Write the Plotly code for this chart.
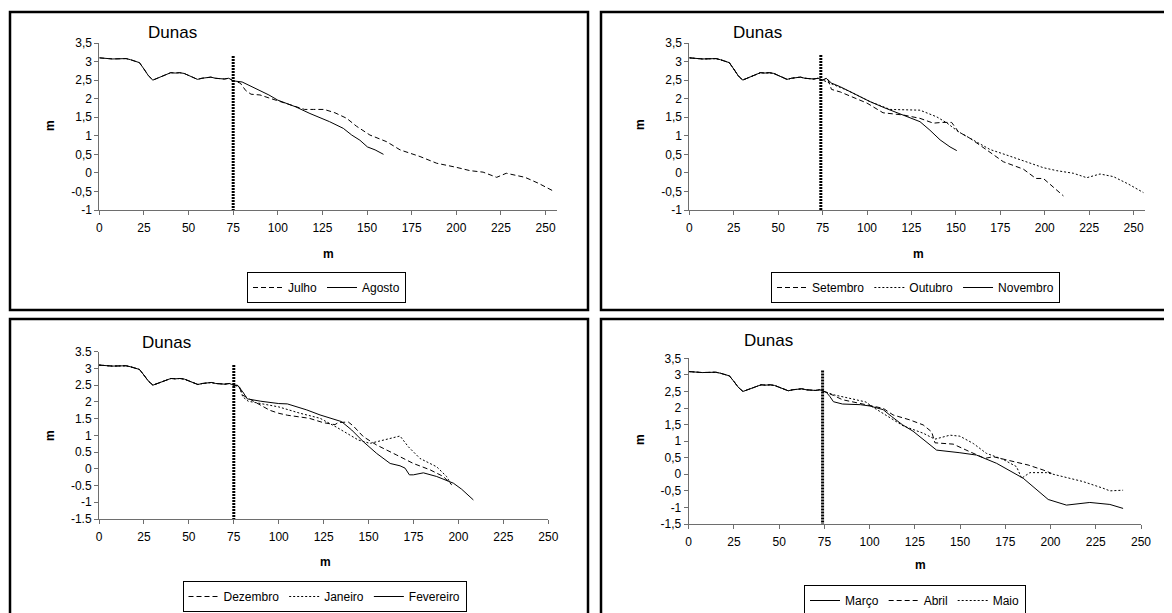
import plotly.graph_objects as go

# ---------------- data ----------------
# common dune profile 0-75 m
BASE_X = [0, 2.5, 5, 7.5, 10, 12.5, 15, 17.5, 20, 22.5, 25, 27.5, 30, 32.5, 35, 37.5,
          40, 42.5, 45, 47.5, 50, 52.5, 55, 57.5, 60, 62.5, 65, 67.5, 70, 72.5]
BASE_Y = [3.10, 3.10, 3.08, 3.07, 3.08, 3.09, 3.08, 3.05, 3.02, 2.97, 2.80, 2.62, 2.50, 2.55,
          2.62, 2.66, 2.70, 2.69, 2.70, 2.68, 2.62, 2.57, 2.52, 2.55, 2.56, 2.58, 2.55, 2.54,
          2.53, 2.55]

# panel 1
JULHO_X = [75, 79, 82, 85, 90, 95, 100, 105, 115, 120, 126, 132, 138.6, 144, 151.6, 161,
           168.5, 179.7, 189, 200, 207.7, 215, 222.6, 228, 238.5, 246, 254.4]
JULHO_Y = [2.48, 2.42, 2.22, 2.12, 2.10, 2.02, 1.94, 1.85, 1.71, 1.71, 1.71, 1.62, 1.47, 1.26,
           1.02, 0.84, 0.62, 0.44, 0.26, 0.15, 0.06, 0.02, -0.12, -0.01, -0.12, -0.28, -0.49]
AGOSTO_X = [75, 80, 85, 90, 95, 100, 105, 110, 118, 124, 129, 136.7, 141.4, 146, 150.2, 154.5, 159.2]
AGOSTO_Y = [2.48, 2.45, 2.33, 2.23, 2.10, 1.96, 1.88, 1.78, 1.60, 1.48, 1.38, 1.20, 1.02, 0.88,
            0.70, 0.62, 0.50]

# panel 2
SETEMBRO_X = [75, 78, 80, 85, 91.7, 100, 109, 115, 120.4, 129.8, 137.3, 142, 147.6, 151.4, 158,
              167.3, 176.7, 188, 195, 199.2, 210.5]
SETEMBRO_Y = [2.50, 2.52, 2.25, 2.18, 2.05, 1.88, 1.62, 1.58, 1.56, 1.47, 1.34, 1.36, 1.36, 1.11,
              0.93, 0.62, 0.30, 0.10, -0.15, -0.15, -0.62]
OUTUBRO_X = [75, 80, 85, 90, 95, 101.7, 113, 120, 129.8, 139.2, 144.8, 151.4, 158, 169.2, 178.6,
             189.9, 199.2, 206.7, 216.1, 223.6, 231.1, 238.6, 247, 255.5]
OUTUBRO_Y = [2.50, 2.42, 2.30, 2.20, 2.08, 1.92, 1.71, 1.70, 1.69, 1.51, 1.35, 1.11, 0.93, 0.63,
             0.48, 0.30, 0.14, 0.06, -0.01, -0.13, -0.03, -0.10, -0.30, -0.53]
NOVEMBRO_X = [75, 77, 80, 85, 90, 95, 101.7, 110, 120.4, 129.8, 135.4, 141.1, 146.7, 150.5]
NOVEMBRO_Y = [2.50, 2.55, 2.42, 2.32, 2.20, 2.08, 1.92, 1.75, 1.56, 1.38, 1.15, 0.89, 0.70, 0.60]

# panel 3
DEZEMBRO_X = [75, 78, 80, 85, 90, 95, 100, 105, 117, 124.8, 131.3, 133, 138.7, 141.5, 147.1,
              154.5, 165.7, 174.9, 184.2, 191.6, 196.3]
DEZEMBRO_Y = [2.50, 2.45, 2.20, 2.05, 1.90, 1.75, 1.66, 1.60, 1.51, 1.38, 1.32, 1.38, 1.40, 1.28,
              0.96, 0.71, 0.41, 0.16, -0.03, -0.23, -0.48]
JANEIRO_X = [75, 78, 80, 83, 90, 100, 111.9, 123, 132.3, 144.3, 150.8, 158.2, 167.5, 172.1,
             178.6, 187.9, 193.4, 196.3]
JANEIRO_Y = [2.50, 2.48, 2.15, 2.02, 1.95, 1.85, 1.66, 1.51, 1.24, 0.86, 0.76, 0.86, 0.98, 0.66,
             0.31, 0.06, -0.23, -0.50]
FEVEREIRO_X = [75, 77, 80, 82.5, 90, 100, 104.8, 115.6, 123, 135, 140.6, 147.1, 154.5, 162,
               167.5, 170.3, 172.7, 174.9, 180.5, 187.9, 197.2, 201.8, 208.3]
FEVEREIRO_Y = [2.50, 2.50, 2.30, 2.09, 2.02, 1.95, 1.94, 1.76, 1.61, 1.41, 1.16, 0.81, 0.46,
               0.16, 0.09, 0.02, -0.18, -0.18, -0.12, -0.23, -0.43, -0.61, -0.93]

# panel 4
MARCO_X = [75, 76, 78, 80, 85, 95, 100.2, 107.5, 112, 118, 124, 137, 149.9, 159.1, 170.2,
           184.9, 198.7, 208.8, 221.7, 232.8, 240.1]
MARCO_Y = [2.50, 2.48, 2.35, 2.19, 2.12, 2.10, 2.06, 1.95, 1.75, 1.50, 1.30, 0.73, 0.65, 0.58,
           0.33, -0.12, -0.76, -0.93, -0.85, -0.91, -1.03]
ABRIL_X = [75, 80, 85, 95, 100.2, 107.5, 113, 122.3, 129.6, 134.3, 136.1, 146.2, 155.4, 163.7,
           168.3, 179.3, 187.6, 195.9, 200.5]
ABRIL_Y = [2.50, 2.38, 2.25, 2.14, 2.09, 1.99, 1.79, 1.64, 1.49, 1.28, 0.95, 0.91, 0.68, 0.48,
           0.53, 0.38, 0.28, 0.13, 0.03]
MAIO_X = [75, 80, 90, 98, 102, 107.5, 118.6, 129.6, 136.1, 144.4, 149.9, 157.3, 164.6, 173.8,
          181.2, 184, 188.6, 197.8, 207, 218, 229, 232.8, 240.1]
MAIO_Y = [2.50, 2.40, 2.28, 2.18, 2.02, 1.84, 1.46, 1.24, 1.06, 1.18, 1.15, 0.93, 0.63, 0.45,
          0.23, -0.12, 0.05, 0.05, -0.07, -0.22, -0.42, -0.50, -0.48]

# reference (dotted) vertical line per panel
CUT_X = [75, 74, 75, 74]
CUT_TOP = [3.15, 3.18, 3.1, 3.13]

TITLE = "Dunas"
AXIS_LABEL = "m"
X_TICKS = [0, 25, 50, 75, 100, 125, 150, 175, 200, 225, 250]
Y_TICKS_TOP = [-1, -0.5, 0, 0.5, 1, 1.5, 2, 2.5, 3, 3.5]
Y_TICKS_BOT = [-1.5, -1, -0.5, 0, 0.5, 1, 1.5, 2, 2.5, 3, 3.5]

PANELS = [
    dict(series=[("Julho", JULHO_X, JULHO_Y, "5px,3px"),
                 ("Agosto", AGOSTO_X, AGOSTO_Y, "solid")],
         yticks=Y_TICKS_TOP, dec=","),
    dict(series=[("Setembro", SETEMBRO_X, SETEMBRO_Y, "5px,3px"),
                 ("Outubro", OUTUBRO_X, OUTUBRO_Y, "2px,2px"),
                 ("Novembro", NOVEMBRO_X, NOVEMBRO_Y, "solid")],
         yticks=Y_TICKS_TOP, dec=","),
    dict(series=[("Dezembro", DEZEMBRO_X, DEZEMBRO_Y, "5px,3px"),
                 ("Janeiro", JANEIRO_X, JANEIRO_Y, "2px,2px"),
                 ("Fevereiro", FEVEREIRO_X, FEVEREIRO_Y, "solid")],
         yticks=Y_TICKS_BOT, dec="."),
    dict(series=[("Março", MARCO_X, MARCO_Y, "solid"),
                 ("Abril", ABRIL_X, ABRIL_Y, "5px,3px"),
                 ("Maio", MAIO_X, MAIO_Y, "2px,2px")],
         yticks=Y_TICKS_BOT, dec=","),
]

# ---------------- layout geometry (pixels in the 1172x613 window) ----------------
OFF = 8                       # page body margin offsets the figure
W, H = 1172 - OFF, 613 - OFF
FONT = "Arial, Liberation Sans, sans-serif"

def fx(p):
    return (p - OFF) / W

def fy(p):
    return 1 - (p - OFF) / H

# plot areas: (x0, x1, ytop, ybottom, xmax)
AREAS = [
    (99.3, 557.0, 43.0, 210.0, 256.4),
    (689.3, 1145.0, 43.0, 210.0, 256.4),
    (99.0, 548.3, 351.7, 519.0, 250.0),
    (688.7, 1141.0, 358.3, 524.0, 250.0),
]
TITLE_POS = [(172, 33), (757, 33), (167, 342), (768, 340)]
YLAB_POS = [(50, 125), (640, 125), (50, 435), (640, 440)]
XLAB_POS = [(328, 254), (918, 254), (325, 562), (920, 565)]
LEG_POS = [(326.5, 272), (915.5, 272), (324.5, 581), (915, 585)]
BOXES = [(10, 588, 12, 310), (601, 1190, 12, 310), (10, 588, 319, 630), (601, 1190, 319, 630)]

fig = go.Figure()
layout = dict(
    width=W, height=H, margin=dict(l=0, r=0, t=0, b=0, autoexpand=False),
    paper_bgcolor="white", plot_bgcolor="white",
    font=dict(family=FONT, size=12, color="black"),
    annotations=[], shapes=[],
)

for i, (panel, area) in enumerate(zip(PANELS, AREAS)):
    n = "" if i == 0 else str(i + 1)
    xa, ya = "x" + n, "y" + n
    leg = "legend" + n
    x0, x1, yt, yb, xmax = area
    ymin, ymax = panel["yticks"][0], panel["yticks"][-1]

    for name, tx, ty, dash in panel["series"]:
        fig.add_trace(go.Scatter(
            x=BASE_X + tx, y=BASE_Y + ty, mode="lines", name=name,
            line=dict(color="black", width=1, dash=dash),
            xaxis=xa, yaxis=ya, legend=leg,
        ))
    fig.add_trace(go.Scatter(
        x=[CUT_X[i], CUT_X[i]], y=[CUT_TOP[i], ymin], mode="lines",
        line=dict(color="black", width=3, dash="2px,1px"),
        xaxis=xa, yaxis=ya, showlegend=False, hoverinfo="skip",
    ))

    axis_common = dict(showline=True, linecolor="#6e6e6e", linewidth=1, ticks="outside",
                       ticklen=4, tickcolor="#6e6e6e", showgrid=False, zeroline=False,
                       automargin=False,
                       tickfont=dict(size=12, color="black", family=FONT))
    layout["xaxis" + n] = dict(
        axis_common, domain=[fx(x0), fx(x1)], range=[0, xmax], anchor=ya,
        tickvals=X_TICKS, ticktext=[str(v) for v in X_TICKS], ticklabelstandoff=3,
    )
    ytext = [("%g" % v).replace(".", panel["dec"]) for v in panel["yticks"]]
    layout["yaxis" + n] = dict(
        axis_common, domain=[fy(yb), fy(yt)], range=[ymin, ymax], anchor=xa,
        tickvals=panel["yticks"], ticktext=ytext,
    )
    lx, ly = LEG_POS[i]
    layout[leg] = dict(
        orientation="h", x=fx(lx), y=fy(ly), xanchor="center", yanchor="top",
        bordercolor="black", borderwidth=1, bgcolor="white",
        font=dict(size=12, family=FONT, color="black"),
        itemwidth=30, tracegroupgap=0,
    )
    tx_, ty_ = TITLE_POS[i]
    layout["annotations"].append(dict(
        text=TITLE, x=fx(tx_), y=fy(ty_), xref="paper", yref="paper",
        showarrow=False, font=dict(size=17, family=FONT, color="black"),
        xanchor="center", yanchor="middle"))
    px_, py_ = YLAB_POS[i]
    layout["annotations"].append(dict(
        text="<b>%s</b>" % AXIS_LABEL, x=fx(px_), y=fy(py_), xref="paper", yref="paper",
        showarrow=False, textangle=-90, font=dict(size=12, family=FONT, color="black"),
        xanchor="center", yanchor="middle"))
    qx, qy = XLAB_POS[i]
    layout["annotations"].append(dict(
        text="<b>%s</b>" % AXIS_LABEL, x=fx(qx), y=fy(qy), xref="paper", yref="paper",
        showarrow=False, font=dict(size=12, family=FONT, color="black"),
        xanchor="center", yanchor="middle"))
    bx0, bx1, by0, by1 = BOXES[i]
    layout["shapes"].append(dict(
        type="rect", xref="paper", yref="paper",
        x0=fx(bx0), x1=fx(bx1), y0=fy(by1), y1=fy(by0),
        line=dict(color="black", width=2.5), fillcolor="rgba(0,0,0,0)", layer="above"))

fig.update_layout(**layout)
fig.write_html("out.html")
